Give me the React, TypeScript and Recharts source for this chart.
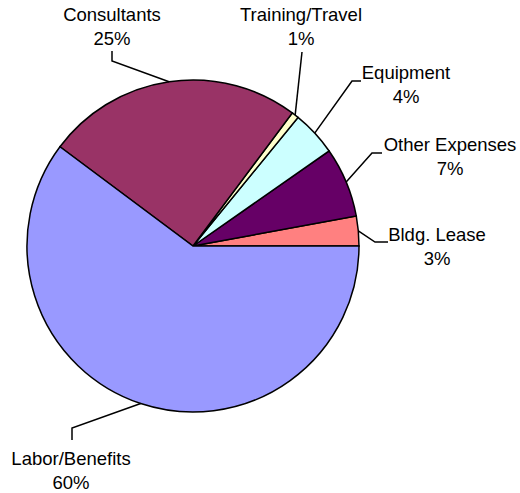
import { PieChart, Pie, Cell } from "recharts";

document.body.style.margin = "0";

// budget shares, counterclockwise from 3 o'clock
const categories = ["Bldg. Lease", "Other Expenses", "Equipment", "Training/Travel", "Consultants", "Labor/Benefits"];
const shares = [2.9, 6.8, 4.4, 0.7, 25.0, 60.2];
const colors = ["#FF8080", "#660066", "#CCFFFF", "#FFFFCC", "#993366", "#9999FF"];

const data = categories.map((name, i) => ({ name, value: shares[i] }));

// label placement: leader elbow, leader end, text centre x, first baseline
const labelLayout = [
    { elbow: [375, 242], end: [388, 242], tx: 437, ty: 241 },
    { elbow: [372, 153], end: [382, 153], tx: 450, ty: 151 },
    { elbow: [352, 81], end: [361, 81], tx: 406, ty: 79 },
    { elbow: [302, 52], end: [302, 52], tx: 301, ty: 21 },
    { elbow: [112, 61], end: [112, 51], tx: 112, ty: 21 },
    { elbow: [72, 428], end: [72, 440], tx: 71, ty: 465 },
];

const RADIAN = Math.PI / 180;
const FONT = "'Liberation Sans', Arial, sans-serif";

function renderLabel(props: any) {
    const { cx, cy, midAngle, outerRadius, index, percent, name } = props;
    const lay = labelLayout[index];
    const sx = cx + outerRadius * Math.cos(-midAngle * RADIAN);
    const sy = cy + outerRadius * Math.sin(-midAngle * RADIAN);
    return (
        <g key={`lbl-${index}`}>
            <polyline
                points={`${sx},${sy} ${lay.elbow[0]},${lay.elbow[1]} ${lay.end[0]},${lay.end[1]}`}
                fill="none"
                stroke="#000"
                strokeWidth={1.5}
            />
            <text x={lay.tx} y={lay.ty} textAnchor="middle" fontSize={18.5} fontFamily={FONT} fill="#000">
                {name}
            </text>
            <text x={lay.tx} y={lay.ty + 24} textAnchor="middle" fontSize={18.5} fontFamily={FONT} fill="#000">
                {Math.round(percent * 100)}%
            </text>
        </g>
    );
}

export default function App() {
    return (
        <div style={{ width: 520, height: 493, background: "#fff" }}>
            <PieChart width={520} height={493} margin={{ top: 0, right: 0, bottom: 0, left: 0 }}>
                <Pie
                    data={data}
                    dataKey="value"
                    nameKey="name"
                    cx={193}
                    cy={246}
                    outerRadius={166}
                    startAngle={0}
                    endAngle={360}
                    stroke="#000"
                    strokeWidth={1.5}
                    label={renderLabel}
                    labelLine={false}
                    isAnimationActive={false}
                >
                    {data.map((entry, index) => (
                        <Cell key={`cell-${index}`} fill={colors[index]} />
                    ))}
                </Pie>
            </PieChart>
        </div>
    );
}
